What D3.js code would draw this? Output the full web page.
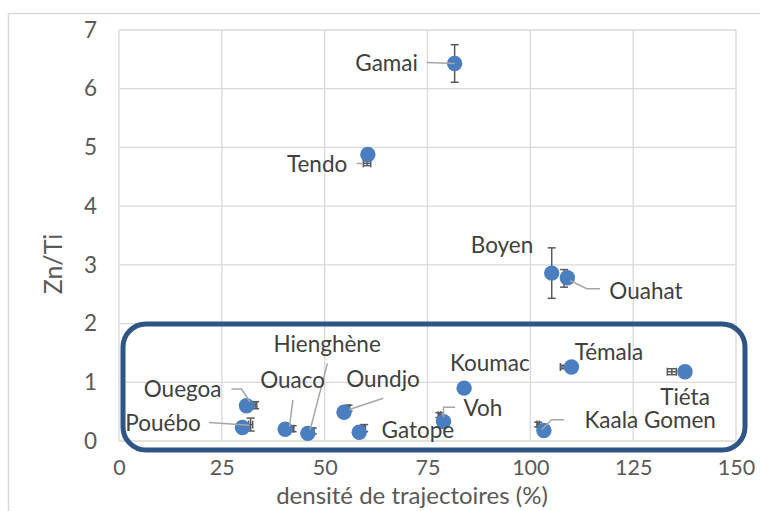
<!DOCTYPE html>
<html>
<head>
<meta charset="utf-8">
<script src="https://cdnjs.cloudflare.com/ajax/libs/d3/7.8.5/d3.min.js"></script>
<style>
  body { margin: 0; background: #fff; }
  text { font-family: Lato, "Open Sans", sans-serif; }
</style>
</head>
<body>
<svg id="chart" width="760" height="511"></svg>
<script>
// sites and measured values (density %, Zn/Ti)
var sites = ['Gamai','Tendo','Boyen','Ouahat','Pouébo','Ouegoa','Ouaco','Hienghène','Oundjo','Gatope','Koumac','Voh','Témala','Tiéta','Kaala Gomen'];
var density = [81.6, 60.5, 105.2, 109.0, 30.0, 31.0, 40.4, 45.9, 54.7, 58.4, 83.9, 78.9, 110.0, 137.6, 103.3];
var znTi    = [6.43, 4.88, 2.86, 2.78, 0.23, 0.60, 0.20, 0.13, 0.49, 0.15, 0.90, 0.33, 1.26, 1.18, 0.18];
// error bar series (centre + half width), drawn as in the original workbook
var errX    = [81.6, 60.3, 105.2, 108.2, 32.0, 33.1, 42.2, 47.1, 55.8, 59.6, 83.9, 77.9, 108.4, 134.4, 101.9];
var errY    = [6.43, 4.73, 2.86, 2.77, 0.28, 0.61, 0.21, 0.17, 0.56, 0.22, 0.90, 0.44, 1.26, 1.18, 0.28];
var sdX     = [0, 0.9, 0, 0.5, 0.5, 0.4, 0.3, 0.3, 0.3, 0.3, 0, 0.3, 1.1, 1.1, 0.3];
var sdY     = [0.32, 0.04, 0.43, 0.15, 0.11, 0.06, 0.05, 0.05, 0.05, 0.06, 0, 0.04, 0.03, 0.05, 0.04];

var xTicks = [0, 25, 50, 75, 100, 125, 150];
var yTicks = [0, 1, 2, 3, 4, 5, 6, 7];
var xTitle = 'densité de trajectoires (%)';
var yTitle = 'Zn/Ti';

// label placement (px offsets from the marker) and leader lines
var labelPos = {
  'Gamai':      {a:'end',    dx:-36.7, dy:7.7,   lead:[[-28,-1],[0,0]]},
  'Tendo':      {a:'end',    dx:-20.6, dy:17.7,  lead:[[-11.3,9],[-5.3,9]]},
  'Boyen':      {a:'end',    dx:-18.4, dy:-19.7, lead:null},
  'Ouahat':     {a:'start',  dx:42,    dy:21,    lead:[[32.7,11],[19.4,11],[2.7,2.7]]},
  'Pouébo':     {a:'end',    dx:-41.6, dy:3.4,   lead:[[-33.3,-5],[7,-2.3]]},
  'Ouegoa':     {a:'end',    dx:-25,   dy:-8.4,  lead:[[-15,-16.7],[-5,-16.7],[3.3,-4]]},
  'Ouaco':      {a:'middle', dx:7.5,   dy:-41,   lead:[[7.7,-29.3],[4.3,-2.6]]},
  'Hienghène':  {a:'middle', dx:19.3,  dy:-81.6, lead:[[19.6,-70],[2.3,-3.3]]},
  'Oundjo':     {a:'middle', dx:39,    dy:-25.3, lead:[[39.3,-14],[5.3,-2.7]]},
  'Gatope':     {a:'middle', dx:58.7,  dy:6,     lead:null},
  'Koumac':     {a:'middle', dx:25.7,  dy:-17.6, lead:null},
  'Voh':        {a:'start',  dx:20,    dy:-6,    lead:[[11.7,-14.4],[0,-14.4],[0,-4.4]]},
  'Témala':     {a:'middle', dx:37.5,  dy:-6.7,  lead:null},
  'Tiéta':      {a:'middle', dx:0,     dy:33.5,  lead:null},
  'Kaala Gomen':{a:'middle', dx:106.3, dy:-2,    lead:[[20,-10.7],[7.7,-10.7],[-2.3,-0.7]]}
};

var data = sites.map(function(s, i){
  return {name:s, x:density[i], y:znTi[i], ex:errX[i], ey:errY[i], sx:sdX[i], sy:sdY[i]};
});

var svg = d3.select('#chart');
var gridCol = '#d9d9d9', textCol = '#595959', labelCol = '#404040';
var fs = '22.5px';

// chart frame (cropped on the right / bottom like the original)
svg.append('rect')
  .attr('x', 8.5).attr('y', 13.5).attr('width', 800).attr('height', 600)
  .attr('fill', 'none').attr('stroke', gridCol).attr('stroke-width', 1.5);

var x = d3.scaleLinear().domain([0, 150]).range([119, 736]);
var y = d3.scaleLinear().domain([0, 7]).range([441, 30]);

// gridlines
svg.append('g').selectAll('line.vg').data(xTicks).enter().append('line')
  .attr('x1', function(d){ return x(d); }).attr('x2', function(d){ return x(d); })
  .attr('y1', y(0)).attr('y2', y(7))
  .attr('stroke', gridCol).attr('stroke-width', 1.3);
svg.append('g').selectAll('line.hg').data(yTicks).enter().append('line')
  .attr('x1', x(0)).attr('x2', x(150))
  .attr('y1', function(d){ return y(d); }).attr('y2', function(d){ return y(d); })
  .attr('stroke', gridCol).attr('stroke-width', 1.3);

// axes (tick labels only)
var axisX = d3.axisBottom(x).tickValues(xTicks).tickSize(0).tickPadding(19).tickFormat(d3.format('d'));
var axisY = d3.axisLeft(y).tickValues(yTicks).tickSize(0).tickPadding(22).tickFormat(d3.format('d'));
var gx = svg.append('g').attr('transform', 'translate(0,' + y(0) + ')').call(axisX);
var gy = svg.append('g').attr('transform', 'translate(' + x(0) + ',0)').call(axisY);
[gx, gy].forEach(function(g){
  g.select('.domain').remove();
  g.selectAll('.tick text').attr('fill', textCol).style('font-size', fs).style('font-family', 'Lato');
});
gx.selectAll('.tick text').attr('dy', '0.7em').style('font-size', '21.5px');

svg.append('text')
  .attr('x', 412).attr('y', 504).attr('text-anchor', 'middle')
  .attr('fill', textCol).style('font-size', '24px').text(xTitle);
svg.append('text')
  .attr('transform', 'translate(62,264) rotate(-90)').attr('text-anchor', 'middle')
  .attr('fill', textCol).style('font-size', '25px').text(yTitle);

// error bars (behind markers)
var errCol = '#595959', cap = 4;
var eb = svg.append('g').attr('stroke', errCol).attr('stroke-width', 1.5).attr('fill', 'none');
data.forEach(function(d){
  if (d.sy > 0) {
    var y1 = y(d.ey - d.sy), y2 = y(d.ey + d.sy), cx = x(d.ex);
    eb.append('line').attr('x1', cx).attr('x2', cx).attr('y1', y1).attr('y2', y2);
    eb.append('line').attr('x1', cx - cap).attr('x2', cx + cap).attr('y1', y1).attr('y2', y1);
    eb.append('line').attr('x1', cx - cap).attr('x2', cx + cap).attr('y1', y2).attr('y2', y2);
  }
  if (d.sx > 0) {
    var x1 = x(d.ex - d.sx), x2 = x(d.ex + d.sx), cy = y(d.ey);
    eb.append('line').attr('x1', x1).attr('x2', x2).attr('y1', cy).attr('y2', cy);
    eb.append('line').attr('x1', x1).attr('x2', x1).attr('y1', cy - cap).attr('y2', cy + cap);
    eb.append('line').attr('x1', x2).attr('x2', x2).attr('y1', cy - cap).attr('y2', cy + cap);
  }
});

// markers
svg.append('g').selectAll('circle').data(data).enter().append('circle')
  .attr('cx', function(d){ return x(d.x); })
  .attr('cy', function(d){ return y(d.y); })
  .attr('r', 7.7)
  .attr('fill', '#4a7ebf');

// leader lines
var lg = svg.append('g').attr('stroke', '#a6a6a6').attr('stroke-width', 1.5).attr('fill', 'none');
data.forEach(function(d){
  var p = labelPos[d.name];
  if (!p.lead) return;
  var cx = x(d.x), cy = y(d.y);
  lg.append('polyline').attr('points', p.lead.map(function(q){ return (cx + q[0]) + ',' + (cy + q[1]); }).join(' '));
});

// data labels
svg.append('g').selectAll('text').data(data).enter().append('text')
  .attr('x', function(d){ return x(d.x) + labelPos[d.name].dx; })
  .attr('y', function(d){ return y(d.y) + labelPos[d.name].dy; })
  .attr('text-anchor', function(d){ return labelPos[d.name].a; })
  .attr('fill', labelCol).style('font-size', fs)
  .text(function(d){ return d.name; });

// highlight box around the low Zn/Ti group
svg.append('rect')
  .attr('x', 123).attr('y', 324).attr('width', 622).attr('height', 126)
  .attr('rx', 23).attr('ry', 23)
  .attr('fill', 'none').attr('stroke', '#2f5587').attr('stroke-width', 5);
</script>
</body>
</html>
